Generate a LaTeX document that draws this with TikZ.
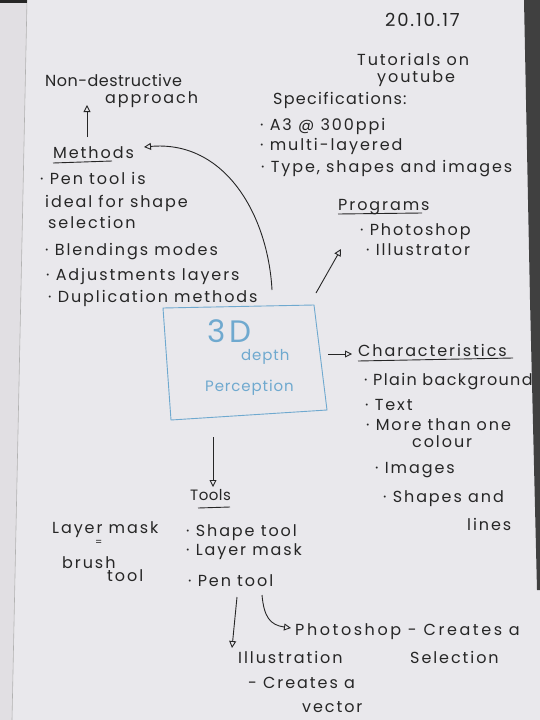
\documentclass[tikz,border=0pt]{standalone}
\usepackage{fontspec}
\setmainfont[LetterSpace=12]{Poppins}
\usetikzlibrary{arrows.meta,calc}
\definecolor{ink}{HTML}{262626}
\definecolor{blueink}{HTML}{6FA9CF}
\definecolor{paper}{HTML}{E9E8EC}
\definecolor{marginc}{HTML}{E1DFE3}
\newcommand{\lsp}[1]{\addfontfeatures{LetterSpace=#1}}
\begin{document}
\begin{tikzpicture}[x=1pt,y=-1pt,
  txt/.style={anchor=base west,inner sep=0pt,text=ink,font=\fontsize{16}{19}\selectfont},
  bluetxt/.style={anchor=base west,inner sep=0pt,text=blueink,font=\fontsize{15}{18}\selectfont\lsp{6}},
  conn/.style={draw=ink,line width=0.9pt,-{Triangle[open,length=7pt,width=7pt,line width=0.9pt]}},
  uline/.style={draw=ink,line width=0.9pt},
  boxline/.style={draw=blueink,line width=0.9pt},
]
\useasboundingbox (0,0) rectangle (540,720);
% paper and photo edges
\fill[paper] (0,0) rectangle (540,720);
\fill[marginc] (0,0) -- (27,0) -- (12,720) -- (0,720) -- cycle;
\draw[black!30,line width=0.6pt] (27,0) -- (12,720);
\fill[black!85] (0,0) rectangle (27,3);
\fill[black!75] (524,0) -- (540,0) -- (540,590) -- (537,590) -- (530,300) -- cycle;

% central box
\node[inner sep=0pt,minimum width=160pt,minimum height=112pt] (box) at (245,363) {};
\path[boxline] (163,308) -- (314,305) -- (327,410) -- (171,420) -- cycle;
\node[bluetxt,font=\fontsize{31}{34}\selectfont] (b1) at (207,342) {3D};
\node[bluetxt] (b2) at (241,360) {depth};
\node[bluetxt] (b3) at (205,391) {Perception};

% date and notes
\node[txt,font=\fontsize{18}{21}\selectfont\lsp{10}] (date) at (385,26) {20.10.17};
\node[txt] (tut1) at (357,65) {Tutorials on};
\node[txt] (tut2) at (377,82) {youtube};

% methods branch
\node[txt,font=\fontsize{16}{19}\selectfont\lsp{3}] (nd1) at (45,86) {Non-destructive};
\node[txt] (nd2) at (105,103) {approach};
\node[txt] (meth) at (53,158) {Methods};
\draw[uline] (53,163) -- (112,161);
\node[txt] (m1) at (40,184) {· Pen tool is};
\node[txt] (m2) at (45,207) {ideal for shape};
\node[txt] (m3) at (48,228) {selection};
\node[txt] (m4) at (45,255) {· Blendings modes};
\node[txt] (m5) at (46,280) {· Adjustments layers};
\node[txt] (m6) at (48,302) {· Duplication methods};

% specifications
\node[txt,font=\fontsize{16}{19}\selectfont\lsp{8}] (spec) at (273,104) {Specifications:};
\node[txt] (s1) at (260,130) {· A3 @ 300ppi};
\node[txt] (s2) at (260,150) {· multi-layered};
\node[txt] (s3) at (261,172) {· Type, shapes and images};

% programs
\node[txt] (prog) at (338,210) {Programs};
\draw[uline] (338,214) -- (422,213);
\node[txt] (p1) at (360,235) {· Photoshop};
\node[txt] (p2) at (366,255) {· Illustrator};

% characteristics
\node[txt] (char) at (358,356) {Characteristics};
\draw[uline] (358,361) -- (513,358);
\node[txt,font=\fontsize{16}{19}\selectfont\lsp{8.5}] (c1) at (364,385) {· Plain background};
\node[txt] (c2) at (365,410) {· Text};
\node[txt] (c3) at (366,430) {· More than one};
\node[txt] (c4) at (412,447) {colour};
\node[txt] (c5) at (375,473) {· Images};
\node[txt] (c6) at (383,502) {· Shapes and};
\node[txt] (c7) at (467,530) {lines};

% tools
\node[txt,font=\fontsize{15}{18}\selectfont\lsp{3}] (tools) at (190,500) {Tools};
\draw[uline] (198,508) -- (230,507);
\node[txt] (t1) at (186,536) {· Shape tool};
\node[txt] (t2) at (186,555) {· Layer mask};
\node[txt] (t3) at (188,586) {· Pen tool};

\node[txt] (lm1) at (52,533) {Layer mask};
\node[txt,font=\fontsize{10}{12}\selectfont] (lm2) at (95,545) {=};
\node[txt] (lm3) at (62,568) {brush};
\node[txt] (lm4) at (107,581) {tool};

\node[txt,font=\fontsize{16}{19}\selectfont\lsp{16}] (ps1) at (295,635) {Photoshop - Creates a};
\node[txt] (ps2) at (410,663) {Selection};
\node[txt] (il1) at (238,663) {Illustration};
\node[txt] (il2) at (248,688) {- Creates a};
\node[txt] (il3) at (302,712) {vector};

% connector end points
\coordinate (ndS) at (87,137);
\coordinate (ndE) at (87,105);
\coordinate (methS) at (272,290);
\coordinate (methE) at (144,147);
\coordinate (progS) at (316,293);
\coordinate (progE) at (341,249);
\coordinate (charS) at (328,354);
\coordinate (charE) at (352,354);
\coordinate (toolS) at (213,437);
\coordinate (toolE) at (213,487);
\coordinate (ilS) at (237,597);
\coordinate (ilE) at (232,648);
\coordinate (psS) at (262,595);
\coordinate (psE) at (291,628);

\draw[conn] (ndS) -- (ndE);
\draw[conn] (methS) .. controls (268,215) and (225,140) .. (methE);
\draw[conn] (progS) -- (progE);
\draw[conn] (charS) -- (charE);
\draw[conn] (toolS) -- (toolE);
\draw[conn] (ilS) -- (ilE);
\draw[conn] (psS) .. controls (264,617) and (270,625) .. (psE);
\end{tikzpicture}
\end{document}
